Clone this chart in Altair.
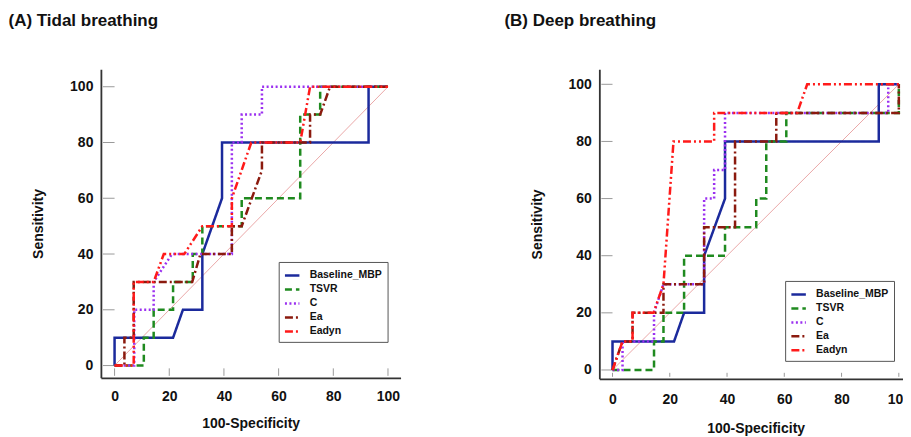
import altair as alt
import pandas as pd

series = ["Baseline_MBP", "TSVR", "C", "Ea", "Eadyn"]
colors = ["#1b2a9c", "#1f8a1f", "#9b30f0", "#8b1a0e", "#ff1a1a"]
dashes = [[1, 0], [7, 4], [2, 2.5], [8, 3, 2, 3], [8, 3, 2, 3, 2, 3]]
tick_values = [0, 20, 40, 60, 80, 100]
diag_x = [0, 100]
diag_y = [0, 100]

# Panel A: Tidal breathing
a_base_x = [0, 0, 21.4, 25, 32.1, 32.1, 39.3, 39.3, 92.9, 92.9, 100]
a_base_y = [0, 10, 10, 20, 20, 40, 60, 80, 80, 100, 100]
a_tsvr_x = [0, 10.7, 10.7, 14.3, 14.3, 21.4, 21.4, 28.6, 28.6, 32.1, 32.1, 46.5, 46.5, 67.9, 67.9, 75.2, 75.2, 100]
a_tsvr_y = [0, 0, 10, 10, 20, 20, 30, 30, 40, 40, 50, 50, 60, 60, 90, 90, 100, 100]
a_c_x = [0, 7.2, 7.2, 14.3, 14.3, 21, 42.9, 42.9, 46.5, 46.5, 53.9, 53.9, 100]
a_c_y = [0, 0, 20, 20, 30, 40, 40, 80, 80, 90, 90, 100, 100]
a_ea_x = [0, 3.6, 3.6, 7, 7, 28.4, 31.4, 42.9, 42.9, 46.5, 53.9, 53.9, 71.5, 71.5, 75.2, 78.8, 100]
a_ea_y = [0, 0, 10, 10, 30, 30, 40, 40, 50, 50, 70, 80, 80, 90, 90, 100, 100]
a_eadyn_x = [0, 7, 7, 14.3, 18, 25.5, 32.1, 42.9, 42.9, 50, 67.9, 71.5, 100]
a_eadyn_y = [0, 0, 30, 30, 40, 40, 50, 50, 60, 80, 80, 100, 100]

# Panel B: Deep breathing
b_base_x = [0, 0, 21.5, 25, 32, 32, 39.3, 39.3, 93, 93, 100]
b_base_y = [0, 10, 10, 20, 20, 40, 60, 80, 80, 100, 100]
b_tsvr_x = [0, 14.5, 14.5, 17.8, 17.8, 25, 25, 39.3, 39.3, 50.2, 50.2, 53.7, 53.7, 60.7, 60.7, 100, 100]
b_tsvr_y = [0, 0, 10, 10, 20, 20, 40, 40, 50, 50, 60, 60, 80, 80, 90, 90, 100]
b_c_x = [0, 3.5, 3.5, 14.5, 14.5, 17.8, 32, 32, 35.5, 35.5, 39.3, 39.3, 96.3, 96.3, 100]
b_c_y = [0, 0, 10, 10, 20, 30, 30, 60, 60, 70, 70, 90, 90, 100, 100]
b_ea_x = [0, 3.5, 7, 7, 17.8, 17.8, 32, 32, 42.8, 42.8, 57.2, 57.2, 100, 100]
b_ea_y = [0, 10, 10, 20, 20, 30, 30, 50, 50, 80, 80, 90, 90, 100]
b_eadyn_x = [0, 3.5, 7, 7, 14.3, 17.8, 21.3, 35.5, 35.5, 64.5, 68, 100]
b_eadyn_y = [0, 10, 10, 20, 20, 30, 80, 80, 90, 90, 100, 100]


def build(curves):
    rows = []
    for name, (xs, ys) in zip(series, curves):
        for i, (x, y) in enumerate(zip(xs, ys)):
            rows.append({"series": name, "x": x, "y": y, "i": i})
    return pd.DataFrame(rows)


df_a = build([(a_base_x, a_base_y), (a_tsvr_x, a_tsvr_y), (a_c_x, a_c_y),
              (a_ea_x, a_ea_y), (a_eadyn_x, a_eadyn_y)])
df_b = build([(b_base_x, b_base_y), (b_tsvr_x, b_tsvr_y), (b_c_x, b_c_y),
              (b_ea_x, b_ea_y), (b_eadyn_x, b_eadyn_y)])

FONT = "Liberation Sans"


def panel(df, title, title_dx, xdom, ydom, w, h, legx, legy, lpad, tpad):
    xs = alt.Scale(domain=xdom, nice=False, zero=False)
    ys = alt.Scale(domain=ydom, nice=False, zero=False)
    xaxis = alt.Axis(values=tick_values, title="100-Specificity", ticks=False,
                     labelPadding=lpad, titlePadding=tpad, grid=False)
    yaxis = alt.Axis(values=tick_values, title="Sensitivity", ticks=False,
                     labelPadding=8, titlePadding=24, grid=False)
    ticks_df = pd.DataFrame({"t": tick_values})

    diag = alt.Chart(pd.DataFrame({"x": diag_x, "y": diag_y})).mark_line(
        color="#eaa8a8", strokeWidth=1
    ).encode(
        x=alt.X("x:Q", scale=xs, axis=xaxis, title="100-Specificity"),
        y=alt.Y("y:Q", scale=ys, axis=yaxis, title="Sensitivity"),
    )
    ytick = alt.Chart(ticks_df).mark_rule(color="#9a9a9a", strokeWidth=1).encode(
        y=alt.Y("t:Q", scale=ys, title="Sensitivity"),
        x=alt.datum(0),
        x2=alt.value(2),
    )
    xtick = alt.Chart(ticks_df).mark_rule(color="#9a9a9a", strokeWidth=1).encode(
        x=alt.X("t:Q", scale=xs, title="100-Specificity"),
        y=alt.datum(-1),
        y2=alt.value(h - 2),
    )
    leg = alt.Legend(title=None, orient="none", legendX=legx, legendY=legy)
    lines = alt.Chart(df).mark_line(strokeWidth=2.5).encode(
        x=alt.X("x:Q", scale=xs, title="100-Specificity"),
        y=alt.Y("y:Q", scale=ys, title="Sensitivity"),
        color=alt.Color("series:N", scale=alt.Scale(domain=series, range=colors), legend=leg),
        strokeDash=alt.StrokeDash("series:N", scale=alt.Scale(domain=series, range=dashes), legend=leg),
        order=alt.Order("i:Q"),
    )
    return alt.layer(diag, ytick, xtick, lines).properties(
        width=w, height=h,
        title=alt.TitleParams(title, anchor="start", frame="group", dx=title_dx,
                              offset=26, baseline="alphabetic",
                              font=FONT, fontSize=17,
                              fontWeight="bold", color="#111"),
    )


pa = panel(df_a, "(A) Tidal breathing", -92.5, [-5, 104.6], [-4.4, 106.3], 300, 309, 178, 193, 12, 12.5)
pb = panel(df_b, "(B) Deep breathing", -95, [-4.6, 104.6], [-3.1, 105.3], 313, 310, 186, 212, 14, 15)

chart = alt.hconcat(pa, pb, spacing=104).resolve_scale(
    color="independent", strokeDash="independent"
).resolve_legend(
    color="independent", strokeDash="independent"
).properties(
    padding={"left": 0, "top": 4, "right": -9, "bottom": 0}
).configure_view(stroke=None).configure_axis(
    domainColor="#333", domainWidth=1.8,
    labelFont=FONT, labelFontWeight="bold", labelFontSize=14, labelColor="#111",
    titleFont=FONT, titleFontWeight="bold", titleFontSize=14, titleColor="#111",
).configure_legend(
    symbolType="stroke", symbolSize=210, symbolStrokeWidth=2.5,
    labelFont=FONT, labelFontWeight="bold", labelFontSize=10.5, labelColor="#111",
    strokeColor="#555", fillColor="white", padding=5, rowPadding=0,
    labelOffset=9, cornerRadius=0,
)

chart.save("out.html", embed_options={"renderer": "svg", "actions": False})
